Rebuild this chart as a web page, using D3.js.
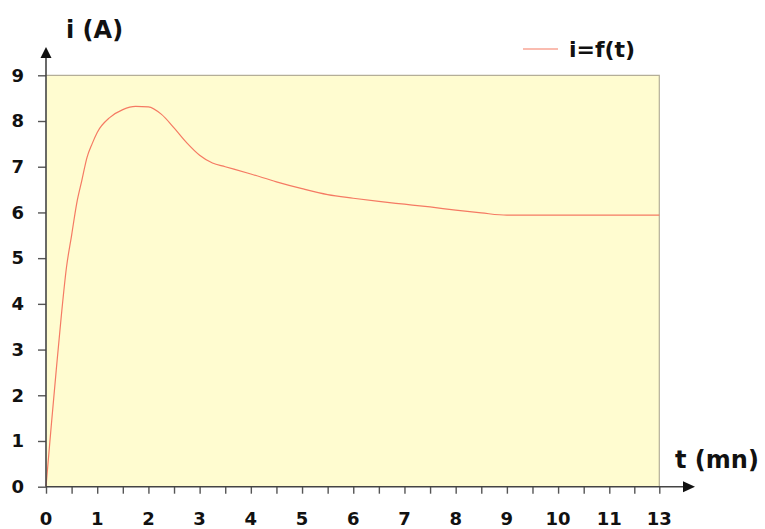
<!DOCTYPE html>
<html>
<head>
<meta charset="utf-8">
<script src="https://cdn.jsdelivr.net/npm/d3@7"></script>
<style>
body{margin:0;background:#fff}
svg{display:block;font-family:"DejaVu Sans",Verdana,sans-serif}
</style>
</head>
<body>
<svg width="765" height="529"></svg>
<script>
// ===== DATA =====
const tValues = [0,0.1,0.2,0.3,0.4,0.5,0.6,0.7,0.8,0.9,1,1.25,1.5,1.75,2,2.25,2.5,2.75,3,3.25,3.5,4,4.5,5,5.5,6,6.5,7,7.5,8,8.5,9,10,11,13]
const iValues = [0,1.3,2.55,3.75,4.8,5.5,6.2,6.7,7.2,7.5,7.75,8.08,8.25,8.32,8.31,8.15,7.85,7.52,7.25,7.08,7.0,6.84,6.67,6.52,6.39,6.31,6.24,6.18,6.12,6.05,5.99,5.94,5.94,5.94,5.94]
const xTickLabels = [0,1,2,3,4,5,6,7,8,9,10,11,13]
const yTickLabels = [0,1,2,3,4,5,6,7,8,9]
const seriesName = "i=f(t)"

const data = tValues.map((t,k)=>({t:t,i:iValues[k]}))

const svg = d3.select("svg")

// ===== SCALES =====
// category axis: 0..11 by half steps, then 12 (unlabelled) and 13
const x = d3.scaleLinear()
.domain([0,11,13])
.range([46,609.3,659.3])

const y = d3.scaleLinear()
.domain([0,9])
.range([486.7,75.3])

// ===== PLOT AREA =====
svg.append("rect")
.attr("x",x(0))
.attr("y",y(9))
.attr("width",x(13)-x(0))
.attr("height",y(0)-y(9))
.attr("fill","#FFFCD0")
.attr("stroke","none")

svg.append("path")
.attr("d",`M${x(0)},${y(9)}H${x(13)}V${y(0)}`)
.attr("fill","none")
.attr("stroke","#B4AE98")
.attr("stroke-width",1.2)

// ===== CURVE =====
const line = d3.line()
.x(d=>x(d.t))
.y(d=>y(d.i))
.curve(d3.curveMonotoneX)

svg.append("path")
.datum(data)
.attr("fill","none")
.attr("stroke","#F57A63")
.attr("stroke-width",1.2)
.attr("d",line)

// ===== Y AXIS =====
const yAxis = svg.append("g")
.attr("transform",`translate(${x(0)},0)`)
.call(d3.axisLeft(y).tickValues(yTickLabels).tickSize(8).tickPadding(14).tickFormat(d3.format("d")))

yAxis.select(".domain").remove()
yAxis.selectAll("line").attr("stroke","#555").attr("stroke-width",1.4)
yAxis.selectAll("text")
.attr("font-size",18)
.attr("font-weight","bold")
.attr("fill","#111")
.attr("font-family","DejaVu Sans, Verdana, sans-serif")

svg.append("line")
.attr("x1",x(0)).attr("x2",x(0))
.attr("y1",y(0)).attr("y2",56)
.attr("stroke","#444")
.attr("stroke-width",1.6)

svg.append("path")
.attr("d",`M${x(0)},47L${x(0)-5.5},58L${x(0)+5.5},58Z`)
.attr("fill","#111")

// ===== X AXIS =====
const minorTicks = d3.range(0,11.5,0.5).concat([12,13])

const xAxis = svg.append("g")
.attr("transform",`translate(0,${y(0)})`)
.call(d3.axisBottom(x).tickValues(minorTicks).tickSize(7).tickFormat(""))

xAxis.select(".domain").remove()
xAxis.selectAll("line").attr("stroke","#555").attr("stroke-width",1.4)

svg.append("g")
.selectAll("text")
.data(xTickLabels)
.enter()
.append("text")
.attr("x",d=>x(d))
.attr("y",525)
.attr("text-anchor","middle")
.attr("font-size",18)
.attr("font-weight","bold")
.attr("fill","#111")
.text(d=>d)

svg.append("line")
.attr("x1",x(0)).attr("x2",686)
.attr("y1",y(0)).attr("y2",y(0))
.attr("stroke","#444")
.attr("stroke-width",1.6)

svg.append("path")
.attr("d",`M695,${y(0)}L683,${y(0)-5.5}L683,${y(0)+5.5}Z`)
.attr("fill","#111")

// ===== TITLES =====
svg.append("text")
.attr("x",66)
.attr("y",38)
.attr("font-size",24)
.attr("font-weight","bold")
.attr("fill","#111")
.text("i (A)")

svg.append("text")
.attr("x",675)
.attr("y",468)
.attr("font-size",24)
.attr("font-weight","bold")
.attr("fill","#111")
.text("t (mn)")

// ===== LEGEND =====
svg.append("line")
.attr("x1",523).attr("x2",558)
.attr("y1",49).attr("y2",49)
.attr("stroke","#F57A63")
.attr("stroke-width",1.2)

svg.append("text")
.attr("x",569)
.attr("y",57)
.attr("font-size",22)
.attr("font-weight","bold")
.attr("fill","#111")
.text(seriesName)
</script>
</body>
</html>
